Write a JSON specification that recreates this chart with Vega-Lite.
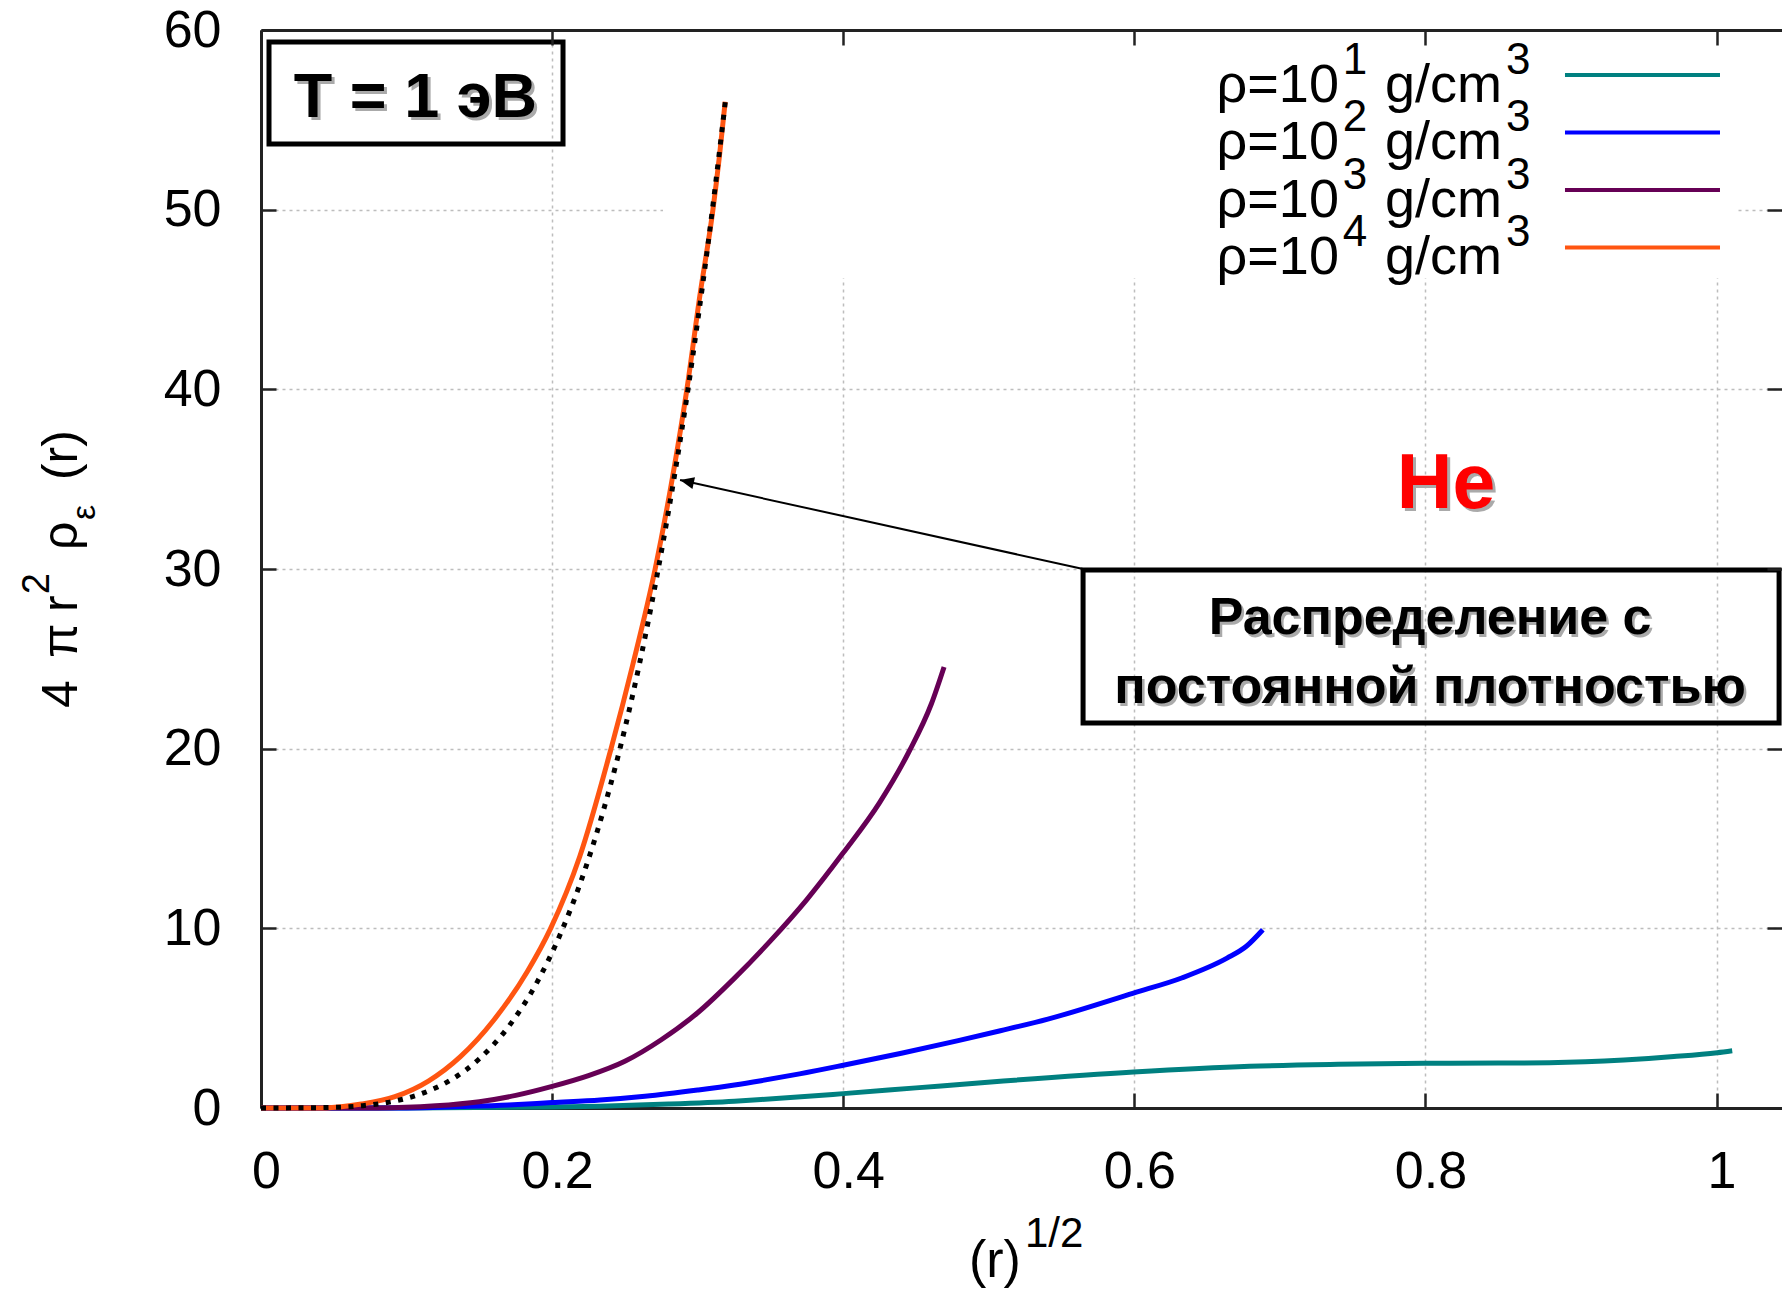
{
  "$schema": "https://vega.github.io/schema/vega-lite/v6.json",
  "width": 1521,
  "height": 1078,
  "autosize": {"type": "none"},
  "padding": {"left": 261, "top": 30, "right": 0, "bottom": 181},
  "background": "white",
  "config": {"view": {"stroke": null}, "font": "Liberation Sans"},
  "datasets": {
    "curves": [
      {"series": "ρ=10¹", "x": 0, "y": 0}, {"series": "ρ=10¹", "x": 0.1, "y": 0.0}, {"series": "ρ=10¹", "x": 0.2, "y": 0.05}, {"series": "ρ=10¹", "x": 0.233, "y": 0.1}, {"series": "ρ=10¹", "x": 0.28, "y": 0.22}, {"series": "ρ=10¹", "x": 0.3253, "y": 0.38}, {"series": "ρ=10¹", "x": 0.3436, "y": 0.47}, {"series": "ρ=10¹", "x": 0.4, "y": 0.8}, {"series": "ρ=10¹", "x": 0.45, "y": 1.12}, {"series": "ρ=10¹", "x": 0.51, "y": 1.5}, {"series": "ρ=10¹", "x": 0.5995, "y": 2.0}, {"series": "ρ=10¹", "x": 0.6793, "y": 2.32}, {"series": "ρ=10¹", "x": 0.74, "y": 2.43}, {"series": "ρ=10¹", "x": 0.7993, "y": 2.49}, {"series": "ρ=10¹", "x": 0.85, "y": 2.5}, {"series": "ρ=10¹", "x": 0.885, "y": 2.52}, {"series": "ρ=10¹", "x": 0.9364, "y": 2.67}, {"series": "ρ=10¹", "x": 0.9707, "y": 2.86}, {"series": "ρ=10¹", "x": 1.0005, "y": 3.08}, {"series": "ρ=10¹", "x": 1.0108, "y": 3.19},
      {"series": "ρ=10²", "x": 0, "y": 0}, {"series": "ρ=10²", "x": 0.1, "y": 0.0}, {"series": "ρ=10²", "x": 0.137, "y": 0.08}, {"series": "ρ=10²", "x": 0.17, "y": 0.17}, {"series": "ρ=10²", "x": 0.2, "y": 0.3}, {"series": "ρ=10²", "x": 0.233, "y": 0.44}, {"series": "ρ=10²", "x": 0.2638, "y": 0.65}, {"series": "ρ=10²", "x": 0.3, "y": 1.0}, {"series": "ρ=10²", "x": 0.3253, "y": 1.28}, {"series": "ρ=10²", "x": 0.3436, "y": 1.52}, {"series": "ρ=10²", "x": 0.37, "y": 1.9}, {"series": "ρ=10²", "x": 0.4, "y": 2.38}, {"series": "ρ=10²", "x": 0.44, "y": 3.05}, {"series": "ρ=10²", "x": 0.479, "y": 3.75}, {"series": "ρ=10²", "x": 0.508, "y": 4.3}, {"series": "ρ=10²", "x": 0.5406, "y": 4.95}, {"series": "ρ=10²", "x": 0.5995, "y": 6.4}, {"series": "ρ=10²", "x": 0.633, "y": 7.25}, {"series": "ρ=10²", "x": 0.6637, "y": 8.34}, {"series": "ρ=10²", "x": 0.677, "y": 9.0}, {"series": "ρ=10²", "x": 0.6883, "y": 9.92},
      {"series": "ρ=10³", "x": 0, "y": 0}, {"series": "ρ=10³", "x": 0.08, "y": 0.0}, {"series": "ρ=10³", "x": 0.12, "y": 0.12}, {"series": "ρ=10³", "x": 0.15, "y": 0.35}, {"series": "ρ=10³", "x": 0.175, "y": 0.7}, {"series": "ρ=10³", "x": 0.2, "y": 1.2}, {"series": "ρ=10³", "x": 0.225, "y": 1.8}, {"series": "ρ=10³", "x": 0.25, "y": 2.6}, {"series": "ρ=10³", "x": 0.275, "y": 3.8}, {"series": "ρ=10³", "x": 0.3, "y": 5.3}, {"series": "ρ=10³", "x": 0.325, "y": 7.2}, {"series": "ρ=10³", "x": 0.35, "y": 9.3}, {"series": "ρ=10³", "x": 0.375, "y": 11.6}, {"series": "ρ=10³", "x": 0.4, "y": 14.2}, {"series": "ρ=10³", "x": 0.425, "y": 17.0}, {"series": "ρ=10³", "x": 0.445, "y": 19.8}, {"series": "ρ=10³", "x": 0.4606, "y": 22.5}, {"series": "ρ=10³", "x": 0.4693, "y": 24.55},
      {"series": "ρ=10⁴", "x": 0, "y": 0}, {"series": "ρ=10⁴", "x": 0.04, "y": 0.0}, {"series": "ρ=10⁴", "x": 0.055, "y": 0.07}, {"series": "ρ=10⁴", "x": 0.069, "y": 0.22}, {"series": "ρ=10⁴", "x": 0.092, "y": 0.63}, {"series": "ρ=10⁴", "x": 0.115, "y": 1.5}, {"series": "ρ=10⁴", "x": 0.137, "y": 2.86}, {"series": "ρ=10⁴", "x": 0.16, "y": 4.9}, {"series": "ρ=10⁴", "x": 0.183, "y": 7.6}, {"series": "ρ=10⁴", "x": 0.199, "y": 10.0}, {"series": "ρ=10⁴", "x": 0.219, "y": 14.0}, {"series": "ρ=10⁴", "x": 0.2405, "y": 20.0}, {"series": "ρ=10⁴", "x": 0.2555, "y": 24.7}, {"series": "ρ=10⁴", "x": 0.2708, "y": 30.0}, {"series": "ρ=10⁴", "x": 0.2825, "y": 35.0}, {"series": "ρ=10⁴", "x": 0.2926, "y": 40.0}, {"series": "ρ=10⁴", "x": 0.3015, "y": 45.2}, {"series": "ρ=10⁴", "x": 0.3105, "y": 50.0}, {"series": "ρ=10⁴", "x": 0.315, "y": 53.0}, {"series": "ρ=10⁴", "x": 0.3189, "y": 56.0}
    ],
    "constdens": [
      {"x": 0, "y": 0}, {"x": 0.05, "y": 0.034}, {"x": 0.07, "y": 0.13}, {"x": 0.09, "y": 0.355}, {"x": 0.11, "y": 0.79}, {"x": 0.13, "y": 1.54}, {"x": 0.15, "y": 2.74}, {"x": 0.17, "y": 4.52}, {"x": 0.19, "y": 7.05}, {"x": 0.206, "y": 9.74}, {"x": 0.22, "y": 12.66}, {"x": 0.235, "y": 16.49}, {"x": 0.245, "y": 19.48}, {"x": 0.255, "y": 22.86}, {"x": 0.265, "y": 26.66}, {"x": 0.272, "y": 29.6}, {"x": 0.28, "y": 33.23}, {"x": 0.2845, "y": 35.4}, {"x": 0.293, "y": 39.8}, {"x": 0.3, "y": 43.79}, {"x": 0.307, "y": 48.0}, {"x": 0.313, "y": 51.9}, {"x": 0.319, "y": 56.0}
    ],
    "legend": [
      {"series": "ρ=10¹", "rank": 0, "exp": "1"},
      {"series": "ρ=10²", "rank": 1, "exp": "2"},
      {"series": "ρ=10³", "rank": 2, "exp": "3"},
      {"series": "ρ=10⁴", "rank": 3, "exp": "4"}
    ]
  },
  "resolve": {"axis": {"x": "independent", "y": "independent"}},
  "layer": [
    {
      "data": {"values": [{}]},
      "mark": {"type": "rect", "fill": "white"},
      "encoding": {
        "x": {"datum": 0.2762, "type": "quantitative", "scale": {"domain": [0, 1.045], "nice": false, "zero": false}, "axis": null},
        "x2": {"datum": 1.0148},
        "y": {"datum": 60, "type": "quantitative", "scale": {"domain": [0, 60], "nice": false}, "axis": null},
        "y2": {"datum": 46.2}
      }
    },
    {
      "data": {"name": "curves"},
      "mark": {"type": "line", "strokeWidth": 5, "interpolate": "monotone"},
      "encoding": {
        "x": {"field": "x", "type": "quantitative", "scale": {"domain": [0, 1.045], "nice": false, "zero": false},
          "axis": {"orient": "bottom", "values": [0, 0.2, 0.4, 0.6, 0.8, 1], "format": "~g", "title": null, "grid": true, "gridColor": "#bdbdbd", "gridDash": [3, 4], "gridWidth": 1.5, "tickSize": -15, "tickWidth": 2.5, "tickColor": "#222222", "domainColor": "#222222", "domainWidth": 3, "labelFont": "Liberation Sans", "labelFontSize": 52, "labelColor": "#000000", "labelPadding": 53, "labelOffset": 5, "labelFlush": false, "labelOverlap": false, "zindex": 0}},
        "y": {"field": "y", "type": "quantitative", "scale": {"domain": [0, 60], "nice": false},
          "axis": {"orient": "left", "values": [0, 10, 20, 30, 40, 50, 60], "title": null, "grid": true, "gridColor": "#bdbdbd", "gridDash": [3, 4], "gridWidth": 1.5, "tickSize": -15, "tickWidth": 2.5, "tickColor": "#222222", "domainColor": "#222222", "domainWidth": 3, "labelFont": "Liberation Sans", "labelFontSize": 52, "labelColor": "#000000", "labelPadding": 55, "labelFlush": false, "labelOverlap": false, "zindex": 0}},
        "color": {"field": "series", "type": "nominal", "scale": {"domain": ["ρ=10¹", "ρ=10²", "ρ=10³", "ρ=10⁴"], "range": ["#008080", "#0000ff", "#660055", "#ff5511"]}, "legend": null}
      }
    },
    {
      "data": {"name": "constdens"},
      "mark": {"type": "line", "color": "#000000", "strokeWidth": 5, "strokeDash": [5, 7.5], "interpolate": "monotone"},
      "encoding": {
        "x": {"field": "x", "type": "quantitative", "scale": {"domain": [0, 1.045], "nice": false, "zero": false},
          "axis": {"orient": "top", "values": [0, 0.2, 0.4, 0.6, 0.8, 1], "labels": false, "title": null, "grid": false, "tickSize": -15, "tickWidth": 2.5, "tickColor": "#222222", "domainColor": "#222222", "domainWidth": 3, "zindex": 1}},
        "y": {"field": "y", "type": "quantitative", "scale": {"domain": [0, 60], "nice": false},
          "axis": {"orient": "right", "values": [0, 10, 20, 30, 40, 50, 60], "labels": false, "title": null, "grid": false, "domain": false, "tickSize": -15, "tickWidth": 2.5, "tickColor": "#222222", "zindex": 1}}
      }
    },
    {
      "data": {"name": "legend"},
      "mark": {"type": "rule", "strokeWidth": 4},
      "encoding": {
        "x": {"datum": 0.8959, "type": "quantitative", "axis": null},
        "x2": {"datum": 1.0024},
        "y": {"datum": 57.5, "type": "quantitative", "axis": null},
        "yOffset": {"field": "rank", "type": "quantitative", "scale": {"domain": [0, 3], "range": [0, 172.5]}},
        "color": {"field": "series", "type": "nominal", "legend": null}
      }
    },
    {
      "data": {"name": "legend"},
      "mark": {"type": "text", "align": "right", "baseline": "alphabetic", "fontSize": 54, "dy": 27, "color": "#000000"},
      "encoding": {
        "x": {"datum": 0.7406, "type": "quantitative", "axis": null},
        "y": {"datum": 57.5, "type": "quantitative", "axis": null},
        "yOffset": {"field": "rank", "type": "quantitative", "scale": {"domain": [0, 3], "range": [0, 172.5]}},
        "text": {"value": "ρ=10"}
      }
    },
    {
      "data": {"name": "legend"},
      "mark": {"type": "text", "align": "left", "baseline": "alphabetic", "fontSize": 44, "dy": -1, "color": "#000000"},
      "encoding": {
        "x": {"datum": 0.7433, "type": "quantitative", "axis": null},
        "y": {"datum": 57.5, "type": "quantitative", "axis": null},
        "yOffset": {"field": "rank", "type": "quantitative", "scale": {"domain": [0, 3], "range": [0, 172.5]}},
        "text": {"field": "exp"}
      }
    },
    {
      "data": {"name": "legend"},
      "mark": {"type": "text", "align": "right", "baseline": "alphabetic", "fontSize": 54, "dy": 27, "color": "#000000"},
      "encoding": {
        "x": {"datum": 0.8526, "type": "quantitative", "axis": null},
        "y": {"datum": 57.5, "type": "quantitative", "axis": null},
        "yOffset": {"field": "rank", "type": "quantitative", "scale": {"domain": [0, 3], "range": [0, 172.5]}},
        "text": {"value": "g/cm"}
      }
    },
    {
      "data": {"name": "legend"},
      "mark": {"type": "text", "align": "left", "baseline": "alphabetic", "fontSize": 44, "dy": -1, "color": "#000000"},
      "encoding": {
        "x": {"datum": 0.8554, "type": "quantitative", "axis": null},
        "y": {"datum": 57.5, "type": "quantitative", "axis": null},
        "yOffset": {"field": "rank", "type": "quantitative", "scale": {"domain": [0, 3], "range": [0, 172.5]}},
        "text": {"value": "3"}
      }
    },
    {
      "data": {"values": [{}]},
      "mark": {"type": "rect", "fill": null, "fillOpacity": 0, "stroke": "#000000", "strokeWidth": 5},
      "encoding": {
        "x": {"datum": 0.0055, "type": "quantitative", "axis": null},
        "x2": {"datum": 0.2075},
        "y": {"datum": 59.33, "type": "quantitative", "axis": null},
        "y2": {"datum": 53.66}
      }
    },
    {
      "data": {"values": [{}]},
      "mark": {"type": "text", "align": "center", "baseline": "alphabetic", "fontSize": 63, "fontWeight": "bold", "color": "#aaaaaa", "dx": 3, "dy": 3},
      "encoding": {
        "x": {"datum": 0.1061, "type": "quantitative", "axis": null},
        "y": {"datum": 55.16, "type": "quantitative", "axis": null},
        "text": {"value": "T = 1 эВ"}
      }
    },
    {
      "data": {"values": [{}]},
      "mark": {"type": "text", "align": "center", "baseline": "alphabetic", "fontSize": 63, "fontWeight": "bold", "color": "#000000"},
      "encoding": {
        "x": {"datum": 0.1061, "type": "quantitative", "axis": null},
        "y": {"datum": 55.16, "type": "quantitative", "axis": null},
        "text": {"value": "T = 1 эВ"}
      }
    },
    {
      "data": {"values": [{}]},
      "mark": {"type": "text", "align": "center", "baseline": "alphabetic", "fontSize": 77, "fontWeight": "bold", "color": "#aaaaaa", "dx": 3, "dy": 3},
      "encoding": {
        "x": {"datum": 0.8142, "type": "quantitative", "axis": null},
        "y": {"datum": 33.4, "type": "quantitative", "axis": null},
        "text": {"value": "He"}
      }
    },
    {
      "data": {"values": [{}]},
      "mark": {"type": "text", "align": "center", "baseline": "alphabetic", "fontSize": 77, "fontWeight": "bold", "color": "#ff0000"},
      "encoding": {
        "x": {"datum": 0.8142, "type": "quantitative", "axis": null},
        "y": {"datum": 33.4, "type": "quantitative", "axis": null},
        "text": {"value": "He"}
      }
    },
    {
      "data": {"values": [{}]},
      "mark": {"type": "rule", "color": "#000000", "strokeWidth": 2},
      "encoding": {
        "x": {"datum": 0.5648, "type": "quantitative", "axis": null},
        "y": {"datum": 30.0, "type": "quantitative", "axis": null},
        "x2": {"datum": 0.2879},
        "y2": {"datum": 34.95}
      }
    },
    {
      "data": {"values": [{}]},
      "mark": {"type": "point", "shape": "M0,0L2,-0.85L2,0.85Z", "filled": true, "color": "#000000", "opacity": 1, "size": 196, "angle": 12.45},
      "encoding": {
        "x": {"datum": 0.2879, "type": "quantitative", "axis": null},
        "y": {"datum": 34.95, "type": "quantitative", "axis": null}
      }
    },
    {
      "data": {"values": [{}]},
      "mark": {"type": "rect", "fill": null, "fillOpacity": 0, "stroke": "#000000", "strokeWidth": 5},
      "encoding": {
        "x": {"datum": 0.5648, "type": "quantitative", "axis": null},
        "x2": {"datum": 1.043},
        "y": {"datum": 29.94, "type": "quantitative", "axis": null},
        "y2": {"datum": 21.43}
      }
    },
    {
      "data": {"values": [{}]},
      "mark": {"type": "text", "align": "center", "baseline": "alphabetic", "fontSize": 52, "fontWeight": "bold", "color": "#aaaaaa", "dx": 2.5, "dy": 2.5},
      "encoding": {
        "x": {"datum": 0.8032, "type": "quantitative", "axis": null},
        "y": {"datum": 26.38, "type": "quantitative", "axis": null},
        "text": {"value": "Распределение с"}
      }
    },
    {
      "data": {"values": [{}]},
      "mark": {"type": "text", "align": "center", "baseline": "alphabetic", "fontSize": 52, "fontWeight": "bold", "color": "#000000"},
      "encoding": {
        "x": {"datum": 0.8032, "type": "quantitative", "axis": null},
        "y": {"datum": 26.38, "type": "quantitative", "axis": null},
        "text": {"value": "Распределение с"}
      }
    },
    {
      "data": {"values": [{}]},
      "mark": {"type": "text", "align": "center", "baseline": "alphabetic", "fontSize": 52, "fontWeight": "bold", "color": "#aaaaaa", "dx": 2.5, "dy": 2.5},
      "encoding": {
        "x": {"datum": 0.8032, "type": "quantitative", "axis": null},
        "y": {"datum": 22.54, "type": "quantitative", "axis": null},
        "text": {"value": "постоянной плотностью"}
      }
    },
    {
      "data": {"values": [{}]},
      "mark": {"type": "text", "align": "center", "baseline": "alphabetic", "fontSize": 52, "fontWeight": "bold", "color": "#000000"},
      "encoding": {
        "x": {"datum": 0.8032, "type": "quantitative", "axis": null},
        "y": {"datum": 22.54, "type": "quantitative", "axis": null},
        "text": {"value": "постоянной плотностью"}
      }
    },
    {
      "data": {"values": [{}]},
      "mark": {"type": "text", "align": "left", "baseline": "alphabetic", "fontSize": 52, "color": "#000000"},
      "encoding": {
        "x": {"datum": 0.4864, "type": "quantitative", "axis": null},
        "y": {"datum": -9.405, "type": "quantitative", "axis": null},
        "text": {"value": "(r)"}
      }
    },
    {
      "data": {"values": [{}]},
      "mark": {"type": "text", "align": "left", "baseline": "alphabetic", "fontSize": 42, "color": "#000000"},
      "encoding": {
        "x": {"datum": 0.5249, "type": "quantitative", "axis": null},
        "y": {"datum": -7.735, "type": "quantitative", "axis": null},
        "text": {"value": "1/2"}
      }
    },
    {
      "data": {"values": [{}]},
      "mark": {"type": "text", "align": "left", "baseline": "alphabetic", "fontSize": 50, "angle": 270, "color": "#000000"},
      "encoding": {
        "x": {"datum": -0.1264, "type": "quantitative", "axis": null},
        "y": {"datum": 22.26, "type": "quantitative", "axis": null},
        "text": {"value": "4"}
      }
    },
    {
      "data": {"values": [{}]},
      "mark": {"type": "text", "align": "left", "baseline": "alphabetic", "fontSize": 50, "angle": 270, "color": "#000000"},
      "encoding": {
        "x": {"datum": -0.1264, "type": "quantitative", "axis": null},
        "y": {"datum": 25.05, "type": "quantitative", "axis": null},
        "text": {"value": "π"}
      }
    },
    {
      "data": {"values": [{}]},
      "mark": {"type": "text", "align": "left", "baseline": "alphabetic", "fontSize": 50, "angle": 270, "color": "#000000"},
      "encoding": {
        "x": {"datum": -0.1264, "type": "quantitative", "axis": null},
        "y": {"datum": 27.61, "type": "quantitative", "axis": null},
        "text": {"value": "r"}
      }
    },
    {
      "data": {"values": [{}]},
      "mark": {"type": "text", "align": "left", "baseline": "alphabetic", "fontSize": 38, "angle": 270, "color": "#000000"},
      "encoding": {
        "x": {"datum": -0.1455, "type": "quantitative", "axis": null},
        "y": {"datum": 28.6, "type": "quantitative", "axis": null},
        "text": {"value": "2"}
      }
    },
    {
      "data": {"values": [{}]},
      "mark": {"type": "text", "align": "left", "baseline": "alphabetic", "fontSize": 50, "angle": 270, "color": "#000000"},
      "encoding": {
        "x": {"datum": -0.1264, "type": "quantitative", "axis": null},
        "y": {"datum": 31.06, "type": "quantitative", "axis": null},
        "text": {"value": "ρ"}
      }
    },
    {
      "data": {"values": [{}]},
      "mark": {"type": "text", "align": "left", "baseline": "alphabetic", "fontSize": 34, "angle": 270, "color": "#000000"},
      "encoding": {
        "x": {"datum": -0.114, "type": "quantitative", "axis": null},
        "y": {"datum": 32.73, "type": "quantitative", "axis": null},
        "text": {"value": "ε"}
      }
    },
    {
      "data": {"values": [{}]},
      "mark": {"type": "text", "align": "left", "baseline": "alphabetic", "fontSize": 50, "angle": 270, "color": "#000000"},
      "encoding": {
        "x": {"datum": -0.1264, "type": "quantitative", "axis": null},
        "y": {"datum": 34.95, "type": "quantitative", "axis": null},
        "text": {"value": "(r)"}
      }
    }
  ]
}
